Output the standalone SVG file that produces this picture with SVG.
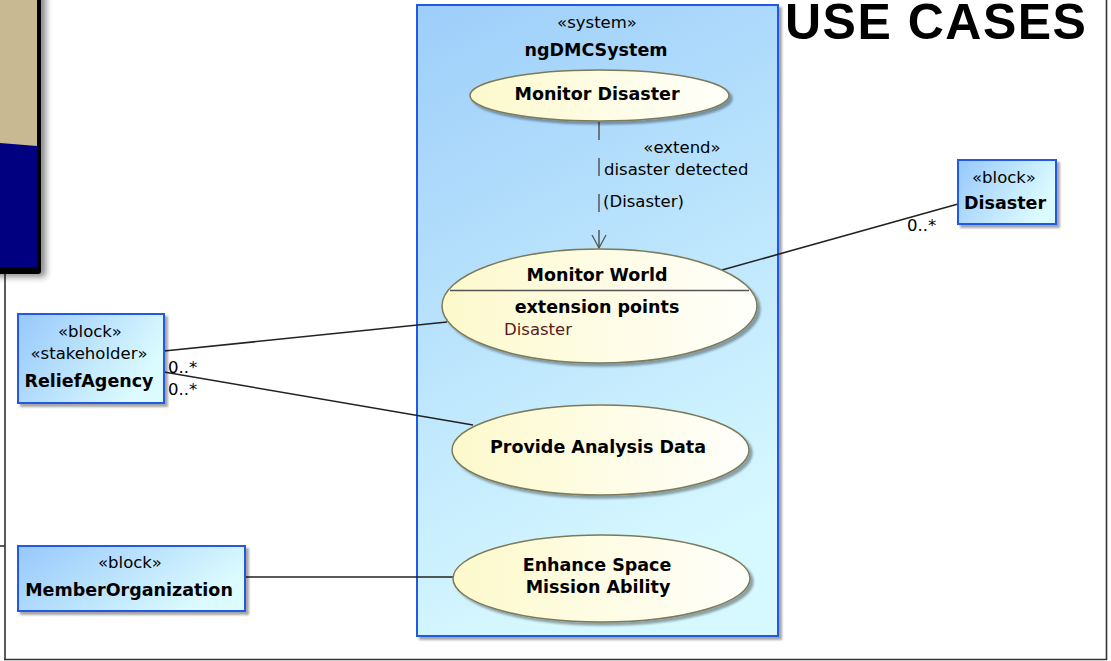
<svg xmlns="http://www.w3.org/2000/svg" width="1111" height="661" viewBox="0 0 1111 661">
  <defs>
    <linearGradient id="sysFill" x1="0" y1="0" x2="0.3" y2="1">
      <stop offset="0" stop-color="#9dcefa"/>
      <stop offset="1" stop-color="#d6f8ff"/>
    </linearGradient>
    <linearGradient id="blockFill" x1="0" y1="0" x2="1" y2="0.4">
      <stop offset="0" stop-color="#96c8fb"/>
      <stop offset="1" stop-color="#dcfbff"/>
    </linearGradient>
    <linearGradient id="ucFill" x1="0" y1="0" x2="1" y2="0">
      <stop offset="0" stop-color="#fdf9cc"/>
      <stop offset="1" stop-color="#fffffb"/>
    </linearGradient>
    <filter id="shadow" x="-10%" y="-10%" width="130%" height="130%">
      <feDropShadow dx="3" dy="3" stdDeviation="1.3" flood-color="#000" flood-opacity="0.35"/>
    </filter>
    <filter id="panelShadow" x="-20%" y="-10%" width="160%" height="130%">
      <feDropShadow dx="5" dy="3" stdDeviation="3" flood-color="#000" flood-opacity="0.45"/>
    </filter>
    <!-- open arrowhead, drawn pointing along +x so orient="auto" turns it with the line -->
    <marker id="openArrow" viewBox="0 0 15 16" refX="14" refY="8" markerWidth="15" markerHeight="16" markerUnits="userSpaceOnUse" orient="auto">
      <path d="M1,1 L14,8 L1,15" fill="none" stroke="#555" stroke-width="1.3"/>
    </marker>
    <style>
      .txt { font-family: "DejaVu Sans", "Liberation Sans", sans-serif; font-size: 16.5px; fill: #000; }
      .bold { font-family: "DejaVu Sans", "Liberation Sans", sans-serif; font-size: 17.5px; font-weight: bold; fill: #000; }
      .mid { text-anchor: middle; }
      .block { fill: url(#blockFill); stroke: #2458e6; stroke-width: 2; filter: url(#shadow); }
      .uc { fill: url(#ucFill); stroke: #7c7a58; stroke-width: 1.5; filter: url(#shadow); }
      .assoc { stroke: #222; stroke-width: 1.6; fill: none; }
      .frame { stroke: #333; stroke-width: 1.6; fill: none; }
    </style>
  </defs>

  <rect width="1111" height="661" fill="#fff"/>

  <!-- page frame -->
  <g id="frame">
    <line class="frame" x1="5" y1="270" x2="5" y2="660"/>
    <line class="frame" x1="4" y1="659.5" x2="1107" y2="659.5" stroke="#666"/>
    <line class="frame" x1="1106.5" y1="0" x2="1106.5" y2="660" stroke="#555" stroke-width="2"/>
    <line class="frame" x1="0" y1="546" x2="5" y2="546"/>
  </g>

  <!-- corner picture panel -->
  <g id="panel">
    <rect x="-10" y="-10" width="51" height="284" rx="3" fill="#000" filter="url(#panelShadow)"/>
    <rect x="-10" y="-10" width="47" height="277" fill="#000080"/>
    <polygon points="-10,-10 37,-10 37,146 0,143 -10,143" fill="#c8b993"/>
  </g>

  <!-- title -->
  <text x="785" y="39" font-family="Liberation Sans, Arial, sans-serif" font-size="50" font-weight="bold" letter-spacing="1.5" fill="#000">USE CASES</text>

  <!-- system boundary -->
  <g id="ngDMCSystem">
    <rect x="417" y="5" width="361" height="631" fill="url(#sysFill)" stroke="#2458e6" stroke-width="2" filter="url(#shadow)"/>
    <text class="txt mid" x="597" y="28">«system»</text>
    <text class="bold mid" x="596" y="56">ngDMCSystem</text>
  </g>

  <!-- connectors -->
  <g id="connectors">
    <line class="assoc" x1="164" y1="351" x2="447" y2="322"/>
    <line class="assoc" x1="164" y1="372" x2="473" y2="425"/>
    <line class="assoc" x1="245" y1="577" x2="453" y2="577"/>
    <line class="assoc" x1="722" y1="270" x2="958" y2="204"/>
    <line x1="599" y1="122" x2="599" y2="248" stroke="#555" stroke-width="1.5" stroke-dasharray="18 18" marker-end="url(#openArrow)"/>
    <text class="txt mid" x="682" y="153">«extend»</text>
    <text class="txt" x="604" y="175">disaster detected</text>
    <text class="txt" x="603" y="207">(Disaster)</text>
    <text class="txt" x="168" y="373">0..*</text>
    <text class="txt" x="168" y="395">0..*</text>
    <text class="txt" x="907" y="231">0..*</text>
  </g>

  <!-- use cases -->
  <g id="MonitorDisaster">
    <ellipse class="uc" cx="599.5" cy="95.5" rx="129.5" ry="25.5"/>
    <text class="bold mid" x="597" y="100">Monitor Disaster</text>
  </g>

  <g id="MonitorWorld">
    <ellipse class="uc" cx="599.5" cy="306" rx="157.5" ry="57"/>
    <line x1="450" y1="290.5" x2="749" y2="290.5" stroke="#555" stroke-width="1.3"/>
    <text class="bold mid" x="597" y="281">Monitor World</text>
    <text class="bold mid" x="597" y="313">extension points</text>
    <text class="txt" x="504" y="335" style="fill:#5a1a1a">Disaster</text>
  </g>

  <g id="ProvideAnalysisData">
    <ellipse class="uc" cx="600.5" cy="450" rx="148.5" ry="45"/>
    <text class="bold mid" x="598" y="453">Provide Analysis Data</text>
  </g>

  <g id="EnhanceSpaceMissionAbility">
    <ellipse class="uc" cx="601.5" cy="578.5" rx="148.5" ry="43.5"/>
    <text class="bold mid" x="597" y="571">Enhance Space</text>
    <text class="bold mid" x="598" y="593">Mission Ability</text>
  </g>

  <!-- blocks -->
  <g id="Disaster">
    <rect class="block" x="958" y="160" width="98" height="64"/>
    <text class="txt mid" x="1004" y="183">«block»</text>
    <text class="bold mid" x="1005" y="209">Disaster</text>
  </g>

  <g id="ReliefAgency">
    <rect class="block" x="18" y="314" width="146" height="89"/>
    <text class="txt mid" x="90" y="337">«block»</text>
    <text class="txt mid" x="89" y="359">«stakeholder»</text>
    <text class="bold mid" x="89" y="387">ReliefAgency</text>
  </g>

  <g id="MemberOrganization">
    <rect class="block" x="18" y="546" width="227" height="65"/>
    <text class="txt mid" x="130" y="568">«block»</text>
    <text class="bold mid" x="129" y="596">MemberOrganization</text>
  </g>
</svg>
